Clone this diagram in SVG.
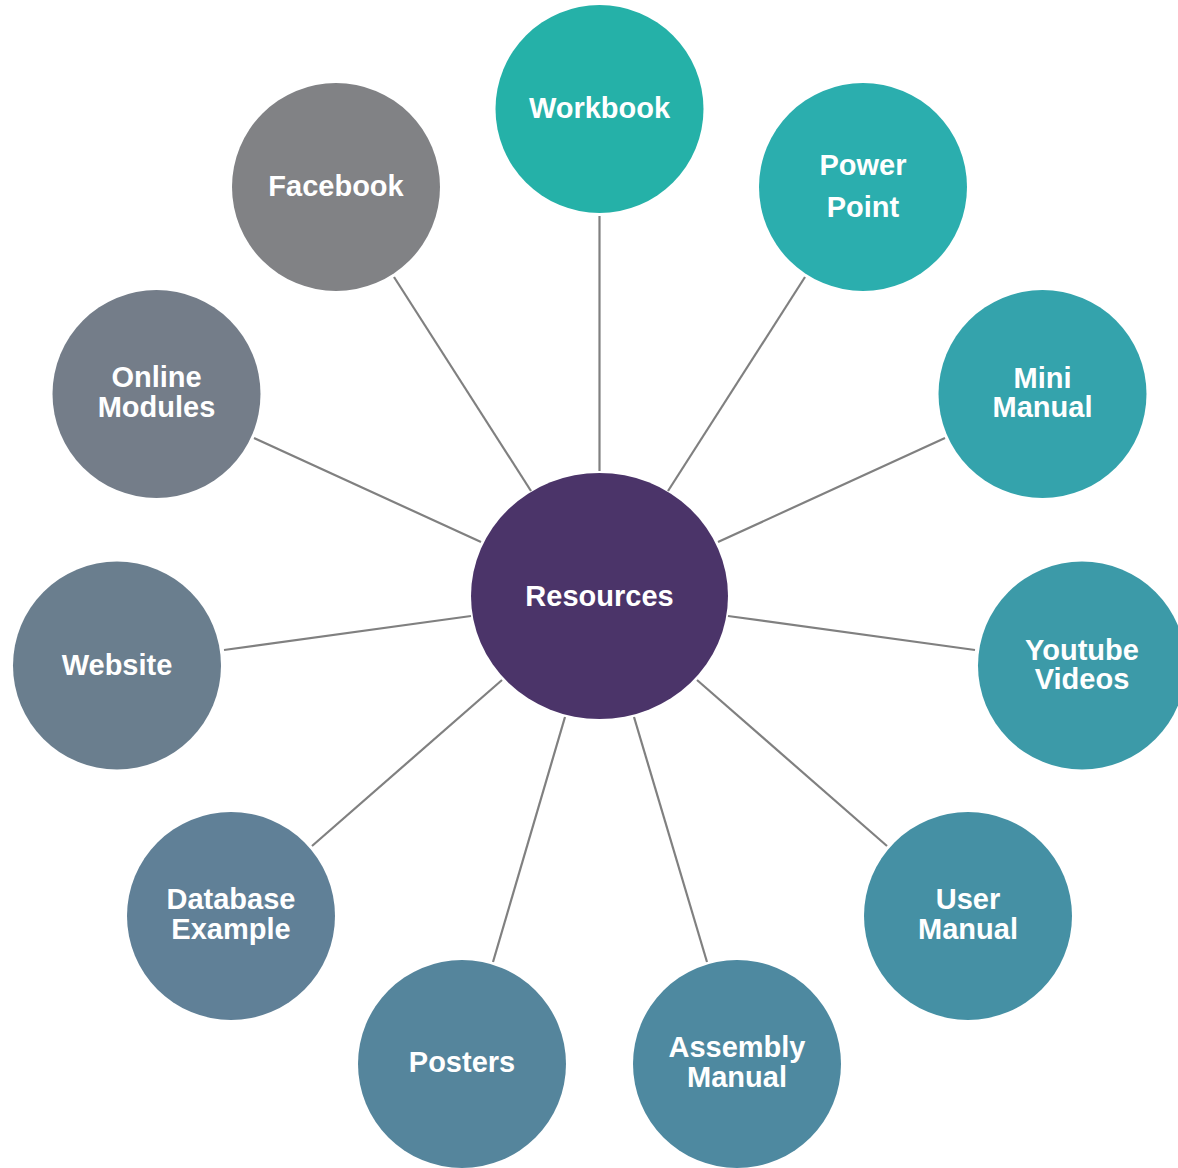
<svg xmlns="http://www.w3.org/2000/svg" width="1178" height="1168" viewBox="0 0 1178 1168">
  <style>
    .link { stroke: #808080; stroke-width: 2.2; fill: none; }
    .label { font-family: "Liberation Sans", Arial, sans-serif; font-weight: bold; font-size: 29px; fill: #ffffff; text-anchor: middle; }
  </style>
  <rect width="1178" height="1168" fill="#ffffff"/>

  <!-- spokes from the hub to each resource -->
  <g id="connectors">
    <line class="link" x1="599.5" y1="216" x2="599.5" y2="471"/>
    <line class="link" x1="805" y1="277" x2="668" y2="491"/>
    <line class="link" x1="945" y1="438" x2="718" y2="542"/>
    <line class="link" x1="975" y1="650" x2="728" y2="616"/>
    <line class="link" x1="887" y1="846" x2="697" y2="680"/>
    <line class="link" x1="707" y1="962" x2="634" y2="717"/>
    <line class="link" x1="493" y1="962" x2="565" y2="717"/>
    <line class="link" x1="312" y1="846" x2="502" y2="680"/>
    <line class="link" x1="224" y1="650" x2="471" y2="616"/>
    <line class="link" x1="254" y1="438" x2="481" y2="542"/>
    <line class="link" x1="394" y1="277" x2="531" y2="491"/>
  </g>

  <g id="hub">
    <ellipse cx="599.5" cy="596" rx="128.5" ry="123" fill="#4B3469"/>
    <text class="label" x="599.5" y="606">Resources</text>
  </g>

  <g id="workbook">
    <circle cx="599.5" cy="109" r="104" fill="#25B1A8"/>
    <text class="label" x="599.5" y="118">Workbook</text>
  </g>

  <g id="power-point">
    <circle cx="863" cy="187" r="104" fill="#2BAEAE"/>
    <text class="label" x="863" y="175">Power</text>
    <text class="label" x="863" y="217">Point</text>
  </g>

  <g id="mini-manual">
    <circle cx="1042.5" cy="394" r="104" fill="#34A3AC"/>
    <text class="label" x="1042.5" y="388">Mini</text>
    <text class="label" x="1042.5" y="417">Manual</text>
  </g>

  <g id="youtube-videos">
    <circle cx="1082" cy="665.5" r="104" fill="#3C9AA8"/>
    <text class="label" x="1082" y="660">Youtube</text>
    <text class="label" x="1082" y="689">Videos</text>
  </g>

  <g id="user-manual">
    <circle cx="968" cy="916" r="104" fill="#4590A4"/>
    <text class="label" x="968" y="909">User</text>
    <text class="label" x="968" y="939">Manual</text>
  </g>

  <g id="assembly-manual">
    <circle cx="737" cy="1064" r="104" fill="#4E89A0"/>
    <text class="label" x="737" y="1057">Assembly</text>
    <text class="label" x="737" y="1087">Manual</text>
  </g>

  <g id="posters">
    <circle cx="462" cy="1064" r="104" fill="#55859C"/>
    <text class="label" x="462" y="1072">Posters</text>
  </g>

  <g id="database-example">
    <circle cx="231" cy="916" r="104" fill="#608097"/>
    <text class="label" x="231" y="909">Database</text>
    <text class="label" x="231" y="939">Example</text>
  </g>

  <g id="website">
    <circle cx="117" cy="665.5" r="104" fill="#6A7E8E"/>
    <text class="label" x="117" y="675">Website</text>
  </g>

  <g id="online-modules">
    <circle cx="156.5" cy="394" r="104" fill="#747D89"/>
    <text class="label" x="156.5" y="387">Online</text>
    <text class="label" x="156.5" y="417">Modules</text>
  </g>

  <g id="facebook">
    <circle cx="336" cy="187" r="104" fill="#818285"/>
    <text class="label" x="336" y="196">Facebook</text>
  </g>
</svg>
